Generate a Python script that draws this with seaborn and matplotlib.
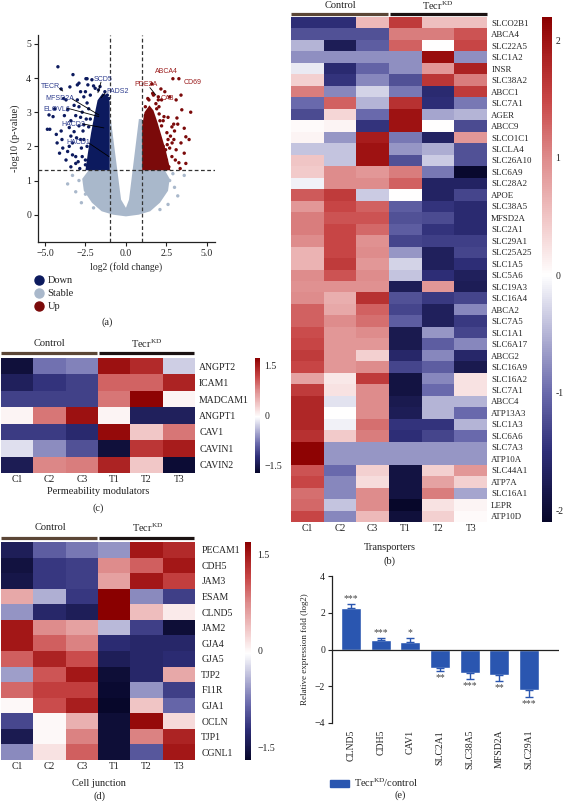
import numpy as np
import pandas as pd
import matplotlib
matplotlib.use('Agg')
import matplotlib.pyplot as plt
import seaborn as sns
from matplotlib.colors import LinearSegmentedColormap
from matplotlib.lines import Line2D
from matplotlib.patches import Patch

# %% data -------------------------------------------------------------
# (a) volcano: points (dense cores drawn as outlines)
down_fc = [-4.2, -3.27, -2.47, -2.4, -4.0, -3.46, -3.0, -2.8, -4.75, -4.5, -4.85, -4.7, -4.1, -3.7,
           -3.5, -3.1, -3.4, -2.9, -3.7, -3.6, -3.1, -3.4, -3.2, -2.8, -2.7, -2.5, -4.25, -3.0, -2.6,
           -2.4, -2.3, -2.16, -2.9, -2.35, -2.1, -2.0, -2.6, -2.8, -3.3, -3.1, -3.6, -4.0, -2.2, -1.9,
           -1.7, -1.3, -1.15, -2.3, -2.4, -2.5, -2.6, -2.2, -1.05, -1.6, -3.95,
           -2.9, -2.7, -3.2, -2.5, -2.75, -2.95, -3.3, -3.5, -3.8, -3.85, -4.4, -2.65, -2.45, -3.05,
           -2.85, -3.4, -3.9, -4.3]
down_p = [4.33, 4.1, 3.98, 3.98, 3.68, 3.74, 3.8, 3.6, 2.92, 2.87, 2.5, 2.5, 1.8, 1.6,
          2.0, 1.7, 2.3, 3.16, 3.36, 3.07, 2.9, 2.75, 2.43, 2.2, 1.7, 1.46, 2.1, 3.36, 3.45,
          3.27, 2.57, 1.9, 3.85, 3.8, 3.95, 3.77, 2.63, 2.85, 2.1, 1.5, 1.85, 2.45, 3.5, 3.7,
          3.65, 3.6, 3.5, 3.1, 2.0, 1.6, 2.2, 2.8, 3.4, 3.75, 2.2,
          2.6, 3.0, 3.2, 3.6, 1.95, 1.55, 1.75, 2.55, 2.9, 3.4, 3.1, 2.45, 2.8, 2.25,
          1.35, 1.4, 1.95, 2.35]
up_fc = [2.9, 3.27, 4.0, 1.6, 2.16, 2.4, 2.7, 3.1, 3.4, 3.45, 3.15, 2.84, 3.6, 3.7, 3.9, 3.4,
         3.1, 3.6, 3.27, 2.84, 2.65, 2.3, 2.53, 2.35, 2.04, 2.0, 2.2, 1.7, 1.42, 1.2, 1.2, 2.96,
         2.7, 3.0, 3.35, 3.7, 2.5, 2.6, 2.45, 2.2, 2.75, 1.9, 2.1,
         1.85, 2.05, 2.3, 2.55, 2.85, 3.05, 2.95, 2.4, 1.65, 1.35, 2.15, 2.6, 3.2, 2.0]
up_p = [3.98, 3.98, 3.0, 3.83, 3.68, 3.6, 3.45, 3.36, 3.5, 3.07, 2.83, 2.57, 2.53, 2.28, 2.2, 2.1,
        1.9, 1.8, 1.52, 1.7, 1.4, 2.0, 2.4, 2.87, 3.16, 3.36, 3.36, 3.5, 3.36, 3.16, 2.9, 2.2,
        1.95, 2.45, 1.35, 1.5, 1.6, 2.2, 1.9, 2.6, 2.3, 3.1, 2.75,
        3.25, 2.95, 2.75, 2.05, 2.1, 1.6, 2.65, 1.45, 3.55, 3.4, 1.55, 2.85, 2.65, 3.45]
stable_fc = [-2.9, -3.1, -2.5, -3.3, -2.75, 2.7, 3.0, 2.6, 3.6, 2.9, -1.7, 2.1, -2.0, 3.2, -3.6]
stable_p = [1.0, 0.67, 0.6, 1.15, 0.35, 1.0, 0.8, 0.3, 1.15, 1.2, 0.27, 0.15, 0.2, 0.55, 0.9]

stable_core_fc = [-1.0, -1.0, -2.3, -2.7, -2.6, -2.1, -1.5, -0.8, 0.0, 0.8, 1.5, 2.1, 2.6, 2.7, 2.4,
                  1.0, 1.0, 0.8, 0.19, 0.0, -0.3, -0.93]
stable_core_p = [2.85, 1.3, 1.3, 1.05, 0.7, 0.35, 0.1, 0.0, -0.05, 0.0, 0.1, 0.35, 0.7, 1.05, 1.3,
                 1.3, 2.8, 2.8, 0.44, 0.2, 0.44, 2.78]
down_core_fc = [-1.0, -1.0, -1.15, -1.45, -1.75, -1.95, -2.15, -2.35, -2.5]
down_core_p = [1.3, 3.3, 3.5, 3.55, 3.35, 2.9, 2.4, 1.8, 1.3]
up_core_fc = [1.0, 1.0, 1.15, 1.45, 1.7, 1.95, 2.2, 2.45, 2.65, 2.75]
up_core_p = [1.3, 2.6, 3.0, 3.2, 3.05, 2.7, 2.3, 1.9, 1.5, 1.3]

down_genes = ['TECR', 'MFSD2A', 'ELOVL6', 'HACD2', 'HACD1', 'SCD5', 'FADS2']
down_lab_x = [-5.25, -5.0, -5.12, -4.0, -3.7, -1.98, -1.23]
down_lab_y = [3.74, 3.39, 3.07, 2.63, 2.1, 3.97, 3.6]
up_genes = ['ABCA4', 'CD69', 'PDE2A', 'CA8']
up_lab_x = [1.8, 3.58, 0.55, 2.16]
up_lab_y = [4.18, 3.86, 3.8, 3.39]

samples = ['C1', 'C2', 'C3', 'T1', 'T2', 'T3']

# (b) transporters
b_genes = ['SLCO2B1', 'ABCA4', 'SLC22A5', 'SLC1A2', 'INSR', 'SLC38A2', 'ABCC1', 'SLC7A1', 'AGER',
           'ABCC9', 'SLCO1C1', 'SLCLA4', 'SLC26A10', 'SLC6A9', 'SLC28A2', 'APOE', 'SLC38A5',
           'MFSD2A', 'SLC2A1', 'SLC29A1', 'SLC25A25', 'SLC1A5', 'SLC5A6', 'SLC19A3', 'SLC16A4',
           'ABCA2', 'SLC7A5', 'SLC1A1', 'SLC6A17', 'ABCG2', 'SLC16A9', 'SLC16A2', 'SLC7A1',
           'ABCC4', 'ATP13A3', 'SLC1A3', 'SLC6A6', 'SLC7A3', 'ATP10A', 'SLC44A1', 'ATP7A',
           'SLC16A1', 'LEPR', 'ATP10D']
b_c1 = [-1.5, -1.2, -0.5, -0.75, -0.15, 0.4, 1.1, -1.0, -1.25, 0.05, 0.1, -0.4, 0.5, 0.45, -0.1,
        1.35, 0.9, 1.1, 1.1, 1.0, 0.65, 0.65, 1.0, 0.95, 1.0, 1.3, 1.3, 1.45, 1.5, 1.6, 1.5, 0.8,
        1.6, 1.8, 1.8, 1.8, 1.7, 2.15, 2.15, 1.4, 1.5, 1.2, 1.25, 1.5]
b_c2 = [-1.5, -1.2, -1.75, -0.75, -1.55, -1.45, -0.8, 1.3, 0.35, 0.1, -0.7, -0.4, -0.4, 1.0, 1.0,
        1.6, 1.5, 1.4, 1.5, 1.5, 1.5, 1.6, 1.4, 0.95, 0.7, 0.75, 1.0, 0.9, 0.9, 0.9, 0.9, 0.2,
        0.25, -0.2, 0.0, -0.1, 0.45, -0.7, -0.7, -1.0, -0.8, -0.8, -0.4, -0.8]
b_c3 = [0.6, -1.2, -1.1, -0.75, -1.05, -0.8, -0.3, -0.5, -1.0, -1.45, 1.9, 2.0, 2.0, 0.9, 1.0,
        -0.35, 1.3, 1.4, 1.25, 0.95, 1.0, 0.9, 1.0, 0.95, 1.7, 1.3, 1.2, 1.0, 0.9, 0.4, 1.0, 1.6,
        1.0, 1.0, 1.0, 1.2, 1.1, -0.7, -0.7, 0.4, 0.3, 1.0, 1.0, 0.6]
b_t1 = [1.6, 1.1, 1.3, -0.75, -0.75, -1.2, -0.9, 1.7, 2.0, 2.0, -0.9, -0.7, -1.2, 1.1, 1.3, 0.0,
        -1.1, -1.2, -1.1, -1.3, -0.7, -0.3, -0.4, -1.75, -1.2, -1.3, -1.1, -1.8, -1.8, -1.6, -1.3,
        -1.9, -1.9, -1.8, -1.75, -1.45, -1.5, -0.7, -0.7, -1.9, -1.9, -1.9, -2.1, -1.95]
b_t2 = [0.55, 1.1, 0.0, 2.05, 0.9, 1.65, -1.55, -1.5, -0.6, 0.0, -1.65, -0.55, -0.35, -0.9, -1.65,
        -1.65, -1.45, -1.25, -1.45, -1.35, -1.7, -1.7, -1.5, 0.9, -1.4, -1.7, -1.7, -0.7, -1.1,
        -0.8, -1.1, -0.8, -1.0, -0.5, -0.5, -1.45, -1.3, -0.7, -0.7, 0.4, 0.8, 1.1, 0.25, 0.4]
b_t3 = [0.55, 1.4, 1.5, -0.75, 1.85, 1.1, 1.6, -0.9, -0.5, -1.25, 0.9, -1.2, -1.2, -2.05, -1.65,
        -1.3, -1.55, -1.55, -1.55, -1.35, -1.3, -1.5, -1.7, -1.75, -1.3, -0.8, -1.4, -1.3, -0.8,
        -1.6, -1.8, 0.25, 0.25, -0.5, -1.0, -0.5, -1.0, -0.7, -0.7, 0.9, 0.4, -0.6, 0.1, 0.05]

# (c) permeability modulators
c_genes = ['ANGPT2', 'ICAM1', 'MADCAM1', 'ANGPT1', 'CAV1', 'CAVIN1', 'CAVIN2']
c_c1 = [-1.6, -1.4, -1.1, 0.05, -1.15, -0.2, -1.45]
c_c2 = [-0.8, -1.2, -1.1, 0.9, -1.15, -0.65, 0.8]
c_c3 = [-0.7, -1.1, -1.1, 1.6, -1.3, -1.0, 0.85]
c_t1 = [1.6, 1.0, 0.9, 0.05, 1.65, -1.6, 1.45]
c_t2 = [1.4, 1.0, 1.7, -1.4, 0.35, 1.3, 0.35]
c_t3 = [-0.3, 1.45, 0.05, -1.4, 0.9, 1.5, -1.65]

# (d) cell junction
d_genes = ['PECAM1', 'CDH5', 'JAM3', 'ESAM', 'CLND5', 'JAM2', 'GJA4', 'GJA5', 'TJP2', 'F11R',
           'GJA1', 'OCLN', 'TJP1', 'CGNL1']
d_c1 = [-1.4, -1.55, -1.5, 0.55, -0.6, 1.5, 1.5, 1.0, -0.55, 0.95, 0.0, -1.05, -1.45, -0.65]
d_c2 = [-0.9, -1.15, -1.15, -0.45, -1.3, 0.75, 1.0, 1.4, 1.05, 1.2, 1.1, 0.0, 0.0, 0.15]
d_c3 = [-0.75, -1.1, -1.1, -1.15, -1.4, 0.6, 0.8, 1.1, 1.5, 1.2, 1.45, 0.5, 0.8, 1.0]
d_t1 = [-0.6, 0.75, 0.6, 1.7, 1.7, -0.4, -1.25, -1.4, -1.6, -1.65, -1.7, -1.6, -1.6, -1.6]
d_t2 = [1.5, 1.0, 1.5, -0.65, 0.4, -1.1, -1.3, -1.3, -1.3, -0.6, 0.35, 1.6, 0.8, -0.95]
d_t3 = [1.35, 1.5, 1.2, -1.1, 0.1, -1.6, -1.3, -1.25, 0.55, -1.1, -0.85, 0.2, 1.4, 1.5]

# (e) qPCR
e_genes = ['CLND5', 'CDH5', 'CAV1', 'SLC2A1', 'SLC38A5', 'MFSD2A', 'SLC29A1']
e_vals = [2.27, 0.53, 0.42, -1.03, -1.29, -1.37, -2.22]
e_err = [0.2, 0.07, 0.2, 0.13, 0.3, 0.35, 0.35]
e_sig = ['***', '***', '*', '**', '***', '**', '***']

# %% style ------------------------------------------------------------
sns.set_style('white')
plt.rcParams['font.family'] = ['Liberation Serif', 'DejaVu Serif']
plt.rcParams['mathtext.fontset'] = 'custom'
plt.rcParams['mathtext.rm'] = 'Liberation Serif'
plt.rcParams['mathtext.it'] = 'Liberation Serif:italic'
plt.rcParams['text.color'] = '#222222'
plt.rcParams['xtick.color'] = '#222222'
plt.rcParams['ytick.color'] = '#222222'

cmap = LinearSegmentedColormap.from_list('heat', [
    (0.0, '#07072a'), (0.14, '#2e2e78'), (0.256, '#6a6aac'), (0.372, '#b4b4d6'),
    (0.488, '#ffffff'), (0.605, '#f0c4c4'), (0.721, '#de8c8c'), (0.837, '#c84646'),
    (0.953, '#a01414'), (1.0, '#8a0000')])

NAVY, GREY, RED = '#0c1a5e', '#a9b8cb', '#7b0a0a'
BLUE = '#2a56b0'
TECR = 'Tecr$^{\\mathrm{KD}}$'

W, H = 566, 801
fig = plt.figure(figsize=(W / 100, H / 100), dpi=100)


def px_axes(l, t, r, b):
    return fig.add_axes([l / W, 1 - b / H, (r - l) / W, (b - t) / H])


def px_text(x, y, s, **kw):
    kw.setdefault('ha', 'center')
    kw.setdefault('va', 'center')
    fig.text(x / W, 1 - y / H, s, **kw)


def px_hline(x0, x1, y, color):
    fig.add_artist(Line2D([x0 / W, x1 / W], [1 - y / H, 1 - y / H], color=color, lw=2.3,
                          solid_capstyle='butt', transform=fig.transFigure))


def heat(ax, cax, cols, genes, vmin, vmax, cticks, cticklabels, rfs, rpad, cpad):
    df = pd.DataFrame(dict(zip(samples, cols)), index=genes)
    sns.heatmap(df, ax=ax, cbar_ax=cax, cmap=cmap, vmin=vmin, vmax=vmax,
                xticklabels=True, yticklabels=True, linewidths=0)
    ax.yaxis.tick_right()
    ax.tick_params(axis='y', length=0, labelsize=rfs, pad=rpad, rotation=0)
    ax.tick_params(axis='x', length=0, labelsize=7, pad=1.5)
    cax.set_yticks(cticks)
    cax.set_yticklabels(cticklabels)
    cax.tick_params(length=0, labelsize=7, pad=cpad)


# %% (a) volcano ------------------------------------------------------
ax = px_axes(38, 35, 215, 242)
ax.fill(stable_core_fc, stable_core_p, color=GREY, lw=0, zorder=1)
ax.fill(down_core_fc, down_core_p, color=NAVY, lw=0, zorder=2)
ax.fill(up_core_fc, up_core_p, color=RED, lw=0, zorder=2)
pts = pd.DataFrame({
    'fc': stable_fc + down_fc + up_fc,
    'p': stable_p + down_p + up_p,
    'group': ['Stable'] * len(stable_fc) + ['Down'] * len(down_fc) + ['Up'] * len(up_fc)})
sns.scatterplot(data=pts, x='fc', y='p', hue='group',
                palette={'Down': NAVY, 'Stable': GREY, 'Up': RED},
                s=6, linewidth=0, legend=False, ax=ax, zorder=3)
ax.axvline(-1, color='#333333', lw=0.9, ls=(0, (3, 2)), zorder=4)
ax.axvline(1, color='#333333', lw=0.9, ls=(0, (3, 2)), zorder=4)
ax.axhline(-np.log10(0.05), color='#333333', lw=0.9, ls=(0, (3, 2)), zorder=4)

for g, x, y in zip(down_genes, down_lab_x, down_lab_y):
    ax.text(x, y, g, fontsize=5, color='#2d3c8e', family=['Liberation Sans', 'DejaVu Sans'],
            ha='left', va='center', zorder=6)
for g, x, y in zip(up_genes, up_lab_x, up_lab_y):
    ax.text(x, y, g, fontsize=5, color='#9b1c1c', family=['Liberation Sans', 'DejaVu Sans'],
            ha='left', va='center', zorder=6)
# leader lines
for (x0, y0, x1, y1) in [(-4.1, 3.7, -3.9, 3.62), (-3.33, 3.39, -1.67, 2.92),
                         (-3.64, 3.12, -1.67, 2.87), (-2.7, 2.66, -1.36, 2.54),
                         (-2.3, 2.1, -1.05, 1.7), (-1.54, 3.88, -1.73, 3.57),
                         (-1.3, 3.55, -1.54, 3.42), (1.48, 3.72, 1.85, 3.5)]:
    ax.plot([x0, x1], [y0, y1], color='black', lw=0.6, zorder=5)

ax.set_xlim(-5.43, 5.5)
ax.set_ylim(-0.8, 5.26)
ax.set_xticks([-5, -2.5, 0, 2.5, 5])
ax.set_yticks([0, 1, 2, 3, 4, 5])
ax.tick_params(left=True, bottom=True, length=3, width=0.8, labelsize=7, pad=2)
for s in ['top', 'right']:
    ax.spines[s].set_visible(False)
for s in ['left', 'bottom']:
    ax.spines[s].set_color('#222222')
    ax.spines[s].set_linewidth(0.9)
ax.set_xlabel('log2 (fold change)', fontsize=7, labelpad=3)
ax.set_ylabel('-log10 (p-value)', fontsize=7.5, labelpad=4)

fig.legend(handles=[Line2D([], [], marker='o', ls='', color=c, markersize=6.5, label=l)
                    for c, l in [(NAVY, 'Down'), (GREY, 'Stable'), (RED, 'Up')]],
           loc='upper left', bbox_to_anchor=(34 / W, 1 - 276 / H), frameon=False,
           fontsize=7.5, handletextpad=0.3, labelspacing=0.35, borderaxespad=0,
           handlelength=1.0, borderpad=0)
px_text(107, 322, '(a)', fontsize=7.5)

# %% (b) transporters -------------------------------------------------
ax = px_axes(291, 17, 487, 522)
cax = px_axes(542, 17, 552, 522)
heat(ax, cax, [b_c1, b_c2, b_c3, b_t1, b_t2, b_t3], b_genes, -2.1, 2.2,
     [-2, -1, 0, 1, 2], ['-2', '-1', '0', '1', '2'], 6.4, 3, 2.5)
px_hline(291, 388, 14, '#5b4636')
px_hline(390, 487, 14, '#1b1212')
px_text(340, 6, 'Control', fontsize=7.5)
px_text(438, 6, TECR, fontsize=7.5)
px_text(390, 547, 'Transporters', fontsize=7.5)
px_text(390, 561, '(b)', fontsize=7.5)

# %% (c) permeability modulators --------------------------------------
ax = px_axes(1, 358, 195, 473)
cax = px_axes(255, 358, 260, 473)
heat(ax, cax, [c_c1, c_c2, c_c3, c_t1, c_t2, c_t3], c_genes, -1.72, 1.74,
     [-1.5, 0, 1.5], ['\u22121.5', '0', '1.5'], 7, 3, 3)
px_hline(1, 97, 353, '#5b4636')
px_hline(99, 194, 353, '#1b1212')
px_text(49, 344, 'Control', fontsize=7.5)
px_text(147, 344, TECR, fontsize=7.5)
px_text(98, 492, 'Permeability modulators', fontsize=7.5)
px_text(98, 508, '(c)', fontsize=7.5)

# %% (d) cell junction ------------------------------------------------
ax = px_axes(1, 542, 195, 760)
cax = px_axes(245, 542, 251, 760)
heat(ax, cax, [d_c1, d_c2, d_c3, d_t1, d_t2, d_t3], d_genes, -1.69, 1.69,
     [-1.5, 0, 1.5], ['\u22121.5', '0', '1.5'], 7, 4.5, 4.5)
px_hline(1, 97, 538, '#5b4636')
px_hline(99, 194, 538, '#1b1212')
px_text(50, 528, 'Control', fontsize=7.5)
px_text(148, 528, TECR, fontsize=7.5)
px_text(99, 783, 'Cell junction', fontsize=7.5)
px_text(99, 796, '(d)', fontsize=7.5)

# %% (e) qPCR bars ----------------------------------------------------
ax = px_axes(332, 576, 559, 723)
sns.barplot(x=e_genes, y=e_vals, color=BLUE, saturation=1, width=0.68, errorbar=None, ax=ax,
            zorder=2)
xs = np.arange(len(e_genes))
lower = [0 if v > 0 else e for v, e in zip(e_vals, e_err)]
upper = [e if v > 0 else 0 for v, e in zip(e_vals, e_err)]
ax.errorbar(xs, e_vals, yerr=[lower, upper], fmt='none', ecolor=BLUE, elinewidth=1,
            capsize=3, capthick=1, zorder=3)
for x, v, e, s in zip(xs, e_vals, e_err, e_sig):
    y = v + e + 0.3 if v > 0 else v - e - 0.35
    ax.text(x, y, s, ha='center', va='center', fontsize=7, color='#444444')
ax.axhline(0, color='#222222', lw=0.9, zorder=4)
ax.set_xlim(-0.64, 7.01)
ax.set_ylim(-4, 4)
ax.set_yticks([-4, -2, 0, 2, 4])
ax.set_yticklabels(['\u22124', '\u22122', '0', '2', '4'])
for s in ['top', 'right', 'bottom']:
    ax.spines[s].set_visible(False)
ax.spines['left'].set_color('#222222')
ax.spines['left'].set_linewidth(0.9)
ax.tick_params(axis='y', left=True, length=3, width=0.8, labelsize=7, pad=2)
ax.tick_params(axis='x', length=0, labelsize=7, pad=5, rotation=90)
ax.set_ylabel('Relative expression fold (log2)', fontsize=6.5, labelpad=4)
fig.legend(handles=[Patch(color=BLUE, label='Tecr$^{\\mathrm{KD}}$/control')],
           loc='center left', bbox_to_anchor=(330 / W, 1 - 783 / H), frameon=False,
           fontsize=7.5, handlelength=1.8, handleheight=0.75, handletextpad=0.5,
           borderaxespad=0, borderpad=0)
px_text(400, 795, '(e)', fontsize=7.5)

fig.savefig('out.png', dpi=100)
